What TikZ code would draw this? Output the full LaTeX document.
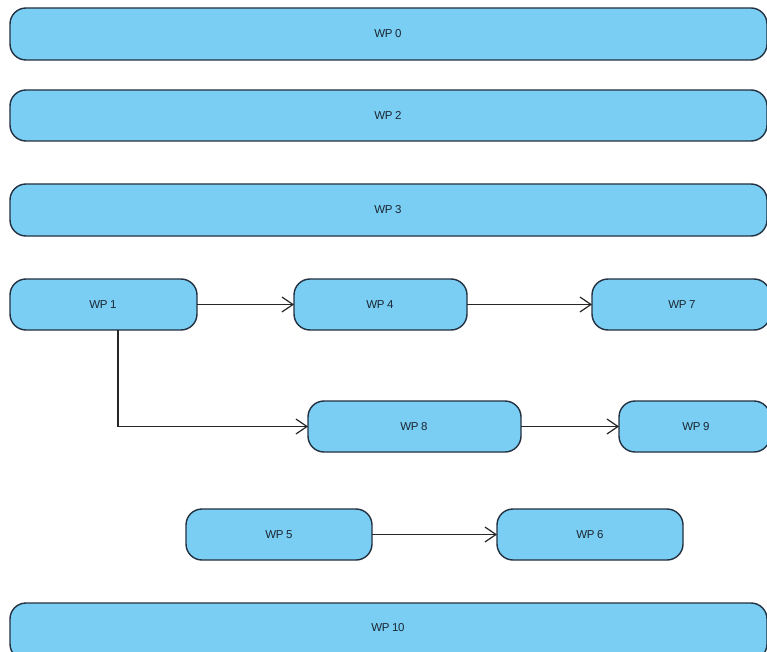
\documentclass[tikz,border=0pt]{standalone}
\usepackage{fontspec}
\setmainfont{Liberation Sans}
\usetikzlibrary{arrows.meta}
\definecolor{boxfill}{HTML}{7ACEF4}
\definecolor{boxline}{HTML}{22303F}
\begin{document}
\begin{tikzpicture}[x=1pt,y=-1pt,
  wp/.style={draw=boxline, fill=boxfill, line width=1.4pt, rounded corners=16pt},
  lbl/.style={font=\fontsize{11.5}{13}\selectfont\addfontfeature{LetterSpace=-4}, text=boxline!80!black},
  conn/.style={draw=black!85, line width=1.2pt, -{Straight Barb[length=11pt,width=15pt,line width=1.2pt]}}]
\useasboundingbox (0,0) rectangle (767,652);
\fill[white] (0,0) rectangle (767,652);
% boxes
\draw[wp] (10,8) rectangle (767,60);
\node[lbl] (wp0) at (388,34) {WP 0};
\draw[wp] (10,90) rectangle (767,141);
\node[lbl] (wp2) at (388,115.5) {WP 2};
\draw[wp] (10,184) rectangle (767,236);
\node[lbl] (wp3) at (388,210) {WP 3};
\draw[wp] (10,279) rectangle (197,330);
\node[lbl] (wp1) at (103,304.5) {WP 1};
\draw[wp] (294,279) rectangle (467,330);
\node[lbl] (wp4) at (380,304.5) {WP 4};
\draw[wp] (592,279) rectangle (770,330);
\node[lbl] (wp7) at (682,304.5) {WP 7};
\draw[wp] (308,401) rectangle (521,452);
\node[lbl] (wp8) at (414,426.5) {WP 8};
\draw[wp] (619,401) rectangle (770,452);
\node[lbl] (wp9) at (696,426.5) {WP 9};
\draw[wp] (186,509) rectangle (372,560);
\node[lbl] (wp5) at (279,534.5) {WP 5};
\draw[wp] (497,509) rectangle (683,560);
\node[lbl] (wp6) at (590,534.5) {WP 6};
\draw[wp] (10,603) rectangle (767,660);
\node[lbl] (wp10) at (388,628) {WP 10};
% anchor coordinates
\coordinate (wp1r) at (197,304.5);
\coordinate (wp1b) at (118,330);
\coordinate (wp4l) at (294,304.5);
\coordinate (wp4r) at (467,304.5);
\coordinate (wp7l) at (592,304.5);
\coordinate (wp8l) at (308,426.5);
\coordinate (wp8r) at (521,426.5);
\coordinate (wp9l) at (619,426.5);
\coordinate (wp5r) at (372,534.5);
\coordinate (wp6l) at (497,534.5);
% connectors
\draw[conn] (wp1r) -- (wp4l);
\draw[conn] (wp4r) -- (wp7l);
\draw[conn] (wp1b) |- (wp8l);
\draw[conn] (wp8r) -- (wp9l);
\draw[conn] (wp5r) -- (wp6l);
\end{tikzpicture}
\end{document}
